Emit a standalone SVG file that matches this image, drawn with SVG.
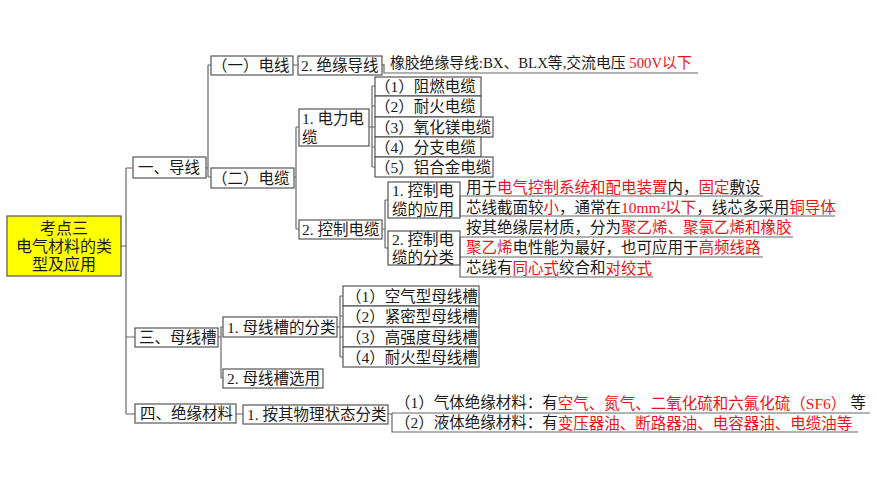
<svg xmlns="http://www.w3.org/2000/svg" width="877" height="501" viewBox="0 0 877 501">
<style>
text{font-family:"Liberation Serif","Noto Sans CJK SC",serif;font-size:15.5px;fill:#1a1a1a;dominant-baseline:central}
.box{fill:#fff;stroke:#555;stroke-width:1.2}
.root{fill:#ffff00;stroke:#555;stroke-width:1.2}
.ln{fill:none;stroke:#666;stroke-width:1.2}
.r{fill:#e8141c}
.c{text-anchor:middle;font-size:16px}
</style>
<rect width="877" height="501" fill="#fff"/>
<g id="connectors" class="ln">
<path d="M121,246H126M126,168V414M126,168H133M126,337H135M126,414H135"/>
<path d="M206,168H208M208,65V177M208,65H211M208,177H211"/>
<path d="M293,65H298M382,65H384"/>
<path d="M294,177H296M296,127V229M296,127H299M296,229H299"/>
<path d="M369,127H372M372,86V167M372,86H375M372,106H375M372,127H375M372,147H375M372,167H375"/>
<path d="M382,229H385M385,200V248M385,200H388M385,248H388"/>
<path d="M218,337H221M221,327V378M221,327H223M221,378H223"/>
<path d="M337,327H340M340,296V357M340,296H343M340,316H343M340,337H343M340,357H343"/>
<path d="M236,414H243M388,414H392"/>
</g>
<g id="root"><rect class="root" x="7" y="216" width="114" height="60"/>
<text class="c" x="64" y="228">考点三</text><text class="c" x="64" y="246">电气材料的类</text><text class="c" x="64" y="264">型及应用</text></g>
<g id="n1"><rect class="box" x="133" y="157" width="73" height="21"/><text x="138" y="167.5">一、导线</text></g>
<g id="n1a"><rect class="box" x="211" y="56" width="82" height="19"/><text x="212" y="65.5">（一）电线</text></g>
<g id="n1a1"><rect class="box" x="298" y="56" width="84" height="19"/><text x="301" y="65.5">2. 绝缘导线</text></g>
<g id="n1a1a"><path class="ln" d="M384,64V73H698"/><text x="390" y="63" style="font-size:14.8px">橡胶绝缘导线:BX、BLX等,交流电压 <tspan class="r">500V以下</tspan></text></g>
<g id="n1b"><rect class="box" x="211" y="168" width="83" height="20"/><text x="212" y="178">（二）电缆</text></g>
<g id="n1b1"><rect class="box" x="299" y="109" width="70" height="37"/><text x="302" y="118">1. 电力电</text><text x="302" y="137">缆</text></g>
<g id="n1b1a"><rect class="box" x="375" y="77" width="106" height="19"/><text x="375" y="86.5">（1）阻燃电缆</text></g>
<g id="n1b1b"><rect class="box" x="375" y="96" width="106" height="21"/><text x="375" y="106.5">（2）耐火电缆</text></g>
<g id="n1b1c"><rect class="box" x="375" y="117" width="118" height="20"/><text x="375" y="127">（3）氧化镁电缆</text></g>
<g id="n1b1d"><rect class="box" x="375" y="137" width="106" height="20"/><text x="375" y="147">（4）分支电缆</text></g>
<g id="n1b1e"><rect class="box" x="375" y="157" width="118" height="20"/><text x="375" y="167">（5）铝合金电缆</text></g>
<g id="n1b2"><rect class="box" x="299" y="220" width="83" height="19"/><text x="302" y="229.5">2. 控制电缆</text></g>
<g id="n1b2a"><rect class="box" x="388" y="182" width="72" height="36"/><text x="392" y="190.5">1. 控制电</text><text x="392" y="209">缆的应用</text></g>
<g id="n1b2a1"><path class="ln" d="M460,196H763"/><text x="466" y="187">用于<tspan class="r">电气控制系统和配电装置</tspan>内，<tspan class="r">固定</tspan>敷设</text></g>
<g id="n1b2a2"><path class="ln" d="M460,196V216H835"/><text x="466" y="207">芯线截面较<tspan class="r">小</tspan>，通常在<tspan class="r">10mm²以下</tspan>，线芯多采用<tspan class="r">铜导体</tspan></text></g>
<g id="n1b2b"><rect class="box" x="388" y="231" width="72" height="34"/><text x="392" y="239">2. 控制电</text><text x="392" y="257">缆的分类</text></g>
<g id="n1b2b1"><path class="ln" d="M460,237H793"/><text x="466" y="227">按其绝缘层材质，分为<tspan class="r">聚乙烯、聚氯乙烯和橡胶</tspan></text></g>
<g id="n1b2b2"><path class="ln" d="M460,237V257H763"/><text x="466" y="247"><tspan class="r">聚乙烯</tspan>电性能为最好，也可应用于<tspan class="r">高频线路</tspan></text></g>
<g id="n1b2b3"><path class="ln" d="M460,257V277H653"/><text x="466" y="267.5">芯线有<tspan class="r">同心式</tspan>绞合和<tspan class="r">对绞式</tspan></text></g>
<g id="n3"><rect class="box" x="135" y="328" width="83" height="19"/><text x="139" y="337.5">三、母线槽</text></g>
<g id="n3a"><rect class="box" x="223" y="317" width="114" height="20"/><text x="227" y="327">1. 母线槽的分类</text></g>
<g id="n3a1"><rect class="box" x="343" y="286" width="136" height="20"/><text x="346" y="296">（1）空气型母线槽</text></g>
<g id="n3a2"><rect class="box" x="343" y="306" width="136" height="21"/><text x="346" y="316.5">（2）紧密型母线槽</text></g>
<g id="n3a3"><rect class="box" x="343" y="327" width="136" height="20"/><text x="346" y="337">（3）高强度母线槽</text></g>
<g id="n3a4"><rect class="box" x="343" y="347" width="136" height="20"/><text x="346" y="357">（4）耐火型母线槽</text></g>
<g id="n3b"><rect class="box" x="223" y="369" width="100" height="19"/><text x="227" y="378.5">2. 母线槽选用</text></g>
<g id="n4"><rect class="box" x="135" y="404" width="101" height="19"/><text x="140" y="413.5">四、绝缘材料</text></g>
<g id="n4a"><rect class="box" x="243" y="405" width="145" height="19"/><text x="247" y="414.5">1. 按其物理状态分类</text></g>
<g id="n4a1"><path class="ln" d="M392,413H870"/><text x="395" y="402.5">（1）气体绝缘材料：有<tspan class="r">空气、氮气、二氧化硫和六氟化硫（SF6）</tspan> 等</text></g>
<g id="n4a2"><path class="ln" d="M392,413V432H858"/><text x="395" y="422.5">（2）液体绝缘材料：有<tspan class="r">变压器油、断路器油、电容器油、电缆油等</tspan></text></g>
</svg>
